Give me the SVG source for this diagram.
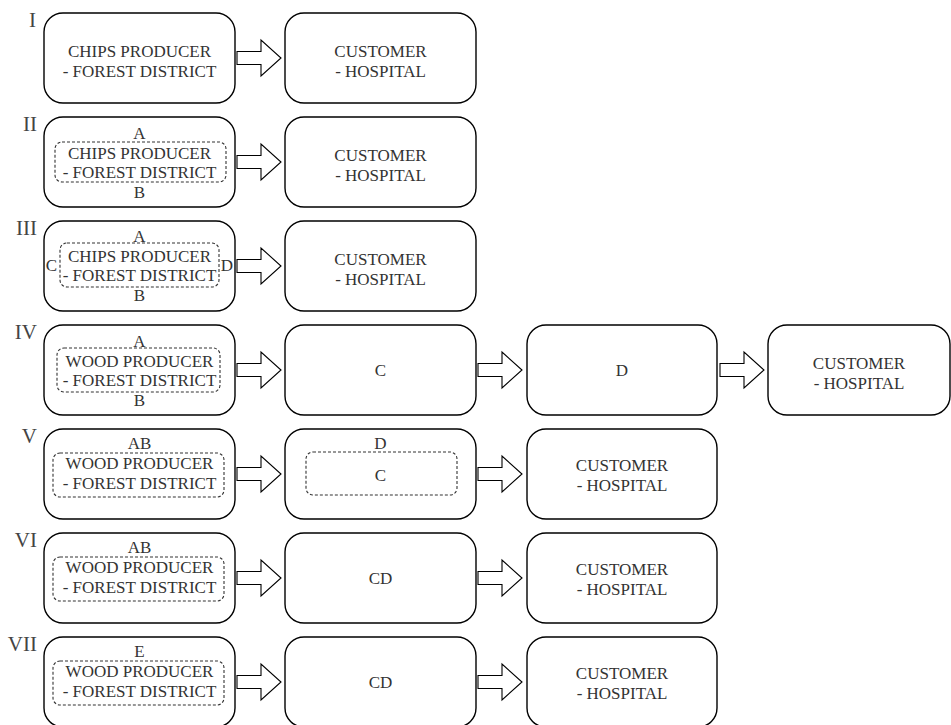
<svg xmlns="http://www.w3.org/2000/svg" width="951" height="725" viewBox="0 0 951 725" font-family="'Liberation Serif', 'DejaVu Serif', serif">
<style>
.box{fill:#fff;stroke:#000;stroke-width:1.4}
.dash{fill:none;stroke:#333;stroke-width:1.1;stroke-dasharray:3 2}
.arr{fill:#fff;stroke:#000;stroke-width:1.1;stroke-linejoin:miter}
text{font-family:'Liberation Serif','DejaVu Serif',serif;font-size:17px;fill:#333;text-anchor:middle}
text.num{font-size:21px;text-anchor:end;fill:#444}
</style>
<rect width="951" height="725" fill="#fff"/>
<g id="numerals">
<text class="num" x="36" y="27">I</text>
<text class="num" x="37" y="131">II</text>
<text class="num" x="37" y="235">III</text>
<text class="num" x="37" y="339">IV</text>
<text class="num" x="37" y="443">V</text>
<text class="num" x="37" y="547">VI</text>
<text class="num" x="37" y="651">VII</text>
</g>
<g id="connectors">
<path class="arr" d="M237,51.5 H261 V40 L281,58 L261,76 V64.5 H237 Z"/>
<path class="arr" d="M237,155.5 H261 V144 L281,162 L261,180 V168.5 H237 Z"/>
<path class="arr" d="M237,259.5 H261 V248 L281,266 L261,284 V272.5 H237 Z"/>
<path class="arr" d="M237,363.5 H261 V352 L281,370 L261,388 V376.5 H237 Z"/>
<path class="arr" d="M478,363.5 H502 V352 L522,370 L502,388 V376.5 H478 Z"/>
<path class="arr" d="M720,363.5 H744 V352 L764,370 L744,388 V376.5 H720 Z"/>
<path class="arr" d="M237,467.5 H261 V456 L281,474 L261,492 V480.5 H237 Z"/>
<path class="arr" d="M478,467.5 H502 V456 L522,474 L502,492 V480.5 H478 Z"/>
<path class="arr" d="M237,571.5 H261 V560 L281,578 L261,596 V584.5 H237 Z"/>
<path class="arr" d="M478,571.5 H502 V560 L522,578 L502,596 V584.5 H478 Z"/>
<path class="arr" d="M237,675.5 H261 V664 L281,682 L261,700 V688.5 H237 Z"/>
<path class="arr" d="M478,675.5 H502 V664 L522,682 L502,700 V688.5 H478 Z"/>
</g>
<g id="r1-producer">
<rect class="box" x="44" y="13" width="191" height="90" rx="19"/>
<text x="139.5" y="57">CHIPS PRODUCER</text>
<text x="139.5" y="77">- FOREST DISTRICT</text>
</g>
<g id="r1-customer">
<rect class="box" x="285" y="13" width="191" height="90" rx="19"/>
<text x="380.5" y="57">CUSTOMER</text>
<text x="380.5" y="77">- HOSPITAL</text>
</g>
<g id="r2-producer">
<rect class="box" x="44" y="117" width="191" height="90" rx="19"/>
<rect class="dash" x="55" y="142" width="171" height="40" rx="7"/>
<text x="139.5" y="138.5">A</text>
<text x="139.5" y="158.5">CHIPS PRODUCER</text>
<text x="139.5" y="177.5">- FOREST DISTRICT</text>
<text x="139.5" y="197.5">B</text>
</g>
<g id="r2-customer">
<rect class="box" x="285" y="117" width="191" height="90" rx="19"/>
<text x="380.5" y="161">CUSTOMER</text>
<text x="380.5" y="181">- HOSPITAL</text>
</g>
<g id="r3-producer">
<rect class="box" x="44" y="221" width="191" height="90" rx="19"/>
<rect class="dash" x="60" y="243" width="159" height="44" rx="7"/>
<text x="139.5" y="242">A</text>
<text x="139.5" y="262">CHIPS PRODUCER</text>
<text x="139.5" y="281">- FOREST DISTRICT</text>
<text x="139.5" y="301">B</text>
<text x="51.5" y="271">C</text>
<text x="227" y="271">D</text>
</g>
<g id="r3-customer">
<rect class="box" x="285" y="221" width="191" height="90" rx="19"/>
<text x="380.5" y="265">CUSTOMER</text>
<text x="380.5" y="285">- HOSPITAL</text>
</g>
<g id="r4-producer">
<rect class="box" x="44" y="325" width="191" height="90" rx="19"/>
<rect class="dash" x="57" y="348" width="163" height="44" rx="7"/>
<text x="139.5" y="346.5">A</text>
<text x="139.5" y="366.5">WOOD PRODUCER</text>
<text x="139.5" y="385.5">- FOREST DISTRICT</text>
<text x="139.5" y="405.5">B</text>
</g>
<g id="r4-c">
<rect class="box" x="285" y="325" width="191" height="90" rx="19"/>
<text x="380.5" y="376">C</text>
</g>
<g id="r4-d">
<rect class="box" x="527" y="325" width="190" height="90" rx="19"/>
<text x="622" y="376">D</text>
</g>
<g id="r4-customer">
<rect class="box" x="768" y="325" width="182" height="90" rx="19"/>
<text x="859" y="369">CUSTOMER</text>
<text x="859" y="389">- HOSPITAL</text>
</g>
<g id="r5-producer">
<rect class="box" x="44" y="429" width="191" height="90" rx="19"/>
<rect class="dash" x="53" y="453" width="171" height="44" rx="7"/>
<text x="139.5" y="448.5">AB</text>
<text x="139.5" y="468.5">WOOD PRODUCER</text>
<text x="139.5" y="488.5">- FOREST DISTRICT</text>
</g>
<g id="r5-dc">
<rect class="box" x="285" y="429" width="191" height="90" rx="19"/>
<rect class="dash" x="306" y="452" width="151" height="43" rx="7"/>
<text x="380.5" y="448.5">D</text>
<text x="380.5" y="480.5">C</text>
</g>
<g id="r5-customer">
<rect class="box" x="527" y="429" width="190" height="90" rx="19"/>
<text x="622" y="471">CUSTOMER</text>
<text x="622" y="491">- HOSPITAL</text>
</g>
<g id="r6-producer">
<rect class="box" x="44" y="533" width="191" height="90" rx="19"/>
<rect class="dash" x="53" y="557" width="171" height="44" rx="7"/>
<text x="139.5" y="552.5">AB</text>
<text x="139.5" y="572.5">WOOD PRODUCER</text>
<text x="139.5" y="592.5">- FOREST DISTRICT</text>
</g>
<g id="r6-cd">
<rect class="box" x="285" y="533" width="191" height="90" rx="19"/>
<text x="380.5" y="584">CD</text>
</g>
<g id="r6-customer">
<rect class="box" x="527" y="533" width="190" height="90" rx="19"/>
<text x="622" y="575">CUSTOMER</text>
<text x="622" y="595">- HOSPITAL</text>
</g>
<g id="r7-producer">
<rect class="box" x="44" y="637" width="191" height="90" rx="19"/>
<rect class="dash" x="53" y="661" width="171" height="44" rx="7"/>
<text x="139.5" y="656.5">E</text>
<text x="139.5" y="676.5">WOOD PRODUCER</text>
<text x="139.5" y="696.5">- FOREST DISTRICT</text>
</g>
<g id="r7-cd">
<rect class="box" x="285" y="637" width="191" height="90" rx="19"/>
<text x="380.5" y="688">CD</text>
</g>
<g id="r7-customer">
<rect class="box" x="527" y="637" width="190" height="90" rx="19"/>
<text x="622" y="679">CUSTOMER</text>
<text x="622" y="699">- HOSPITAL</text>
</g>
</svg>
